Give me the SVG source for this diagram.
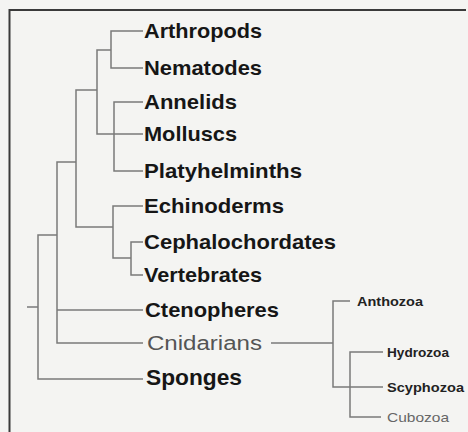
<svg xmlns="http://www.w3.org/2000/svg" width="468" height="432" viewBox="0 0 468 432">
<style>
.bg{fill:#f4f4f2}
.frame{fill:none;stroke:#3a3a3a;stroke-width:2}
.ln{fill:none;stroke:#7a7a7a;stroke-width:1.5}
.big{font-family:"Liberation Sans",Arial,sans-serif;font-weight:bold;font-size:21px;fill:#161616}
.grey{font-family:"Liberation Sans",Arial,sans-serif;font-size:20px;fill:#555}
.small{font-family:"Liberation Sans",Arial,sans-serif;font-weight:bold;font-size:13.5px;fill:#222}
.smallg{font-family:"Liberation Sans",Arial,sans-serif;font-size:13.5px;fill:#666}
</style>
<rect class="bg" x="0" y="0" width="468" height="432"/>
<path class="frame" d="M9.5 432 V10 H466"/>
<g id="connectors">
<path class="ln" d="M143 31 H111 V68 H143"/>
<path class="ln" d="M111 50 H97 V134 H143"/>
<path class="ln" d="M143 102 H114 V171 H143"/>
<path class="ln" d="M97 90 H76 V227 H113"/>
<path class="ln" d="M143 206 H113 V258 H131"/>
<path class="ln" d="M143 242 H131 V275 H143"/>
<path class="ln" d="M76 162 H57 V343 H143"/>
<path class="ln" d="M57 310 H143"/>
<path class="ln" d="M57 235 H38 V379 H143"/>
<path class="ln" d="M27 307 H38"/>
<path class="ln" d="M271 343 H333"/>
<path class="ln" d="M350 301 H333 V387 H383"/>
<path class="ln" d="M383 352 H350 V417 H381"/>
</g>
<g id="arthropods"><text class="big" x="144" y="38" textLength="118" lengthAdjust="spacingAndGlyphs">Arthropods</text></g>
<g id="nematodes"><text class="big" x="144" y="75" textLength="118" lengthAdjust="spacingAndGlyphs">Nematodes</text></g>
<g id="annelids"><text class="big" x="144" y="109" textLength="93" lengthAdjust="spacingAndGlyphs">Annelids</text></g>
<g id="molluscs"><text class="big" x="144" y="141" textLength="93" lengthAdjust="spacingAndGlyphs">Molluscs</text></g>
<g id="platyhelminths"><text class="big" x="144" y="178" textLength="158" lengthAdjust="spacingAndGlyphs">Platyhelminths</text></g>
<g id="echinoderms"><text class="big" x="144" y="213" textLength="140" lengthAdjust="spacingAndGlyphs">Echinoderms</text></g>
<g id="cephalochordates"><text class="big" x="144" y="249" textLength="192" lengthAdjust="spacingAndGlyphs">Cephalochordates</text></g>
<g id="vertebrates"><text class="big" x="144" y="282" textLength="118" lengthAdjust="spacingAndGlyphs">Vertebrates</text></g>
<g id="ctenopheres"><text class="big" x="145" y="317" textLength="134" lengthAdjust="spacingAndGlyphs">Ctenopheres</text></g>
<g id="cnidarians"><text class="grey" x="147" y="350" textLength="115" lengthAdjust="spacingAndGlyphs">Cnidarians</text></g>
<g id="sponges"><text class="big" x="146" y="385" style="font-size:22px" textLength="96" lengthAdjust="spacingAndGlyphs">Sponges</text></g>
<g id="anthozoa"><text class="small" x="357" y="306" textLength="66" lengthAdjust="spacingAndGlyphs">Anthozoa</text></g>
<g id="hydrozoa"><text class="small" x="387" y="357" textLength="62" lengthAdjust="spacingAndGlyphs">Hydrozoa</text></g>
<g id="scyphozoa"><text class="small" x="387" y="392" textLength="77" lengthAdjust="spacingAndGlyphs">Scyphozoa</text></g>
<g id="cubozoa"><text class="smallg" x="387" y="422" textLength="62" lengthAdjust="spacingAndGlyphs">Cubozoa</text></g>
</svg>
